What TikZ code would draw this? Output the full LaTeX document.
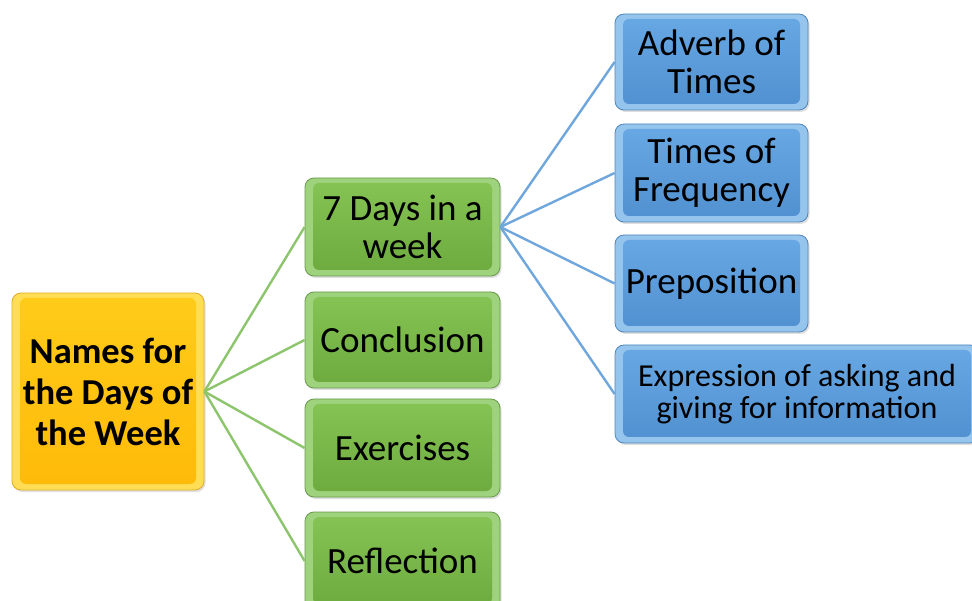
\documentclass[tikz,border=0pt]{standalone}
\usepackage{fontspec}
\setmainfont{Carlito}
\usetikzlibrary{shadows}
\definecolor{gtop}{HTML}{86C455}
\definecolor{gbot}{HTML}{6CAA3E}
\definecolor{glight}{HTML}{9ED27C}
\definecolor{gborder}{HTML}{6A9A4C}
\definecolor{btop}{HTML}{68A8E4}
\definecolor{bbot}{HTML}{5090D0}
\definecolor{blight}{HTML}{95C4EC}
\definecolor{bborder}{HTML}{4F86BE}
\definecolor{ytop}{HTML}{FFCC1A}
\definecolor{ybot}{HTML}{FFBA08}
\definecolor{ylight}{HTML}{FFDE55}
\definecolor{yborder}{HTML}{E0AC2A}
\definecolor{gline}{HTML}{8CC56C}
\definecolor{bline}{HTML}{6FA6DC}
\begin{document}
\begin{tikzpicture}[x=1pt,y=-1pt,
  box/.style={rounded corners=9pt, draw=#1border, line width=0.8pt, fill=#1light,
    align=center, inner sep=0pt, text=black,
    font=\fontsize{37}{38}\selectfont,
    drop shadow={opacity=0.25, shadow xshift=1.5pt, shadow yshift=-2pt},
    path picture={\shade[top color=#1top, bottom color=#1bot, rounded corners=6pt]
      ([xshift=8pt,yshift=-5pt]path picture bounding box.north west) rectangle
      ([xshift=-8pt,yshift=6pt]path picture bounding box.south east);}},
  gbox/.style={box=g, minimum width=195pt},
  bbox/.style={box=b, minimum width=193pt},
  gconn/.style={draw=gline, line width=2.4pt},
  bconn/.style={draw=bline, line width=2.4pt}
]
\useasboundingbox (0,0) rectangle (972,601);
\clip (0,0) rectangle (972,601);

\node[box=y, minimum width=192pt, minimum height=197pt,
  font=\fontsize{36.5}{41}\selectfont\bfseries] (root) at (108,391.5)
  {Names for\\the Days of\\the Week};

\node[gbox, minimum height=98pt] (g1) at (402.5,227) {7 Days in a\\week};
\node[gbox, minimum height=96pt] (g2) at (402.5,340) {Conclusion};
\node[gbox, minimum height=98pt] (g3) at (402.5,448) {Exercises};
\node[gbox, minimum height=98pt] (g4) at (402.5,561) {Reflection};

\node[bbox, minimum height=96pt] (b1) at (711.5,62) {Adverb of\\Times};
\node[bbox, minimum height=98pt] (b2) at (711.5,173) {Times of\\Frequency};
\node[bbox, minimum height=97pt] (b3) at (711.5,283.5) {Preposition};
\node[box=b, minimum width=364pt, minimum height=98pt,
  font=\fontsize{32}{32}\selectfont] (b4) at (797,394)
  {Expression of asking and\\giving for information};

\foreach \g in {g1,g2,g3,g4} \draw[gconn] (root.east) -- (\g.west);
\foreach \b in {b1,b2,b3,b4} \draw[bconn] (g1.east) -- (\b.west);
\end{tikzpicture}
\end{document}
